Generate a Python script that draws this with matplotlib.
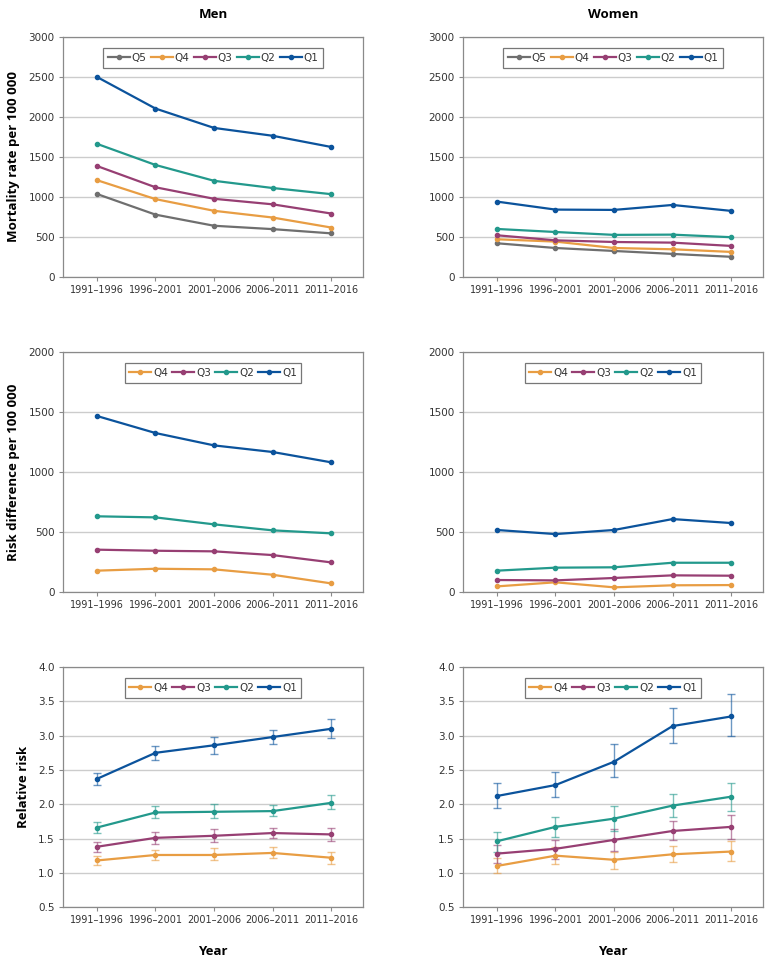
import numpy as np
import matplotlib.pyplot as plt

periods = ["1991\u20131996", "1996\u20132001", "2001\u20132006", "2006\u20132011", "2011\u20132016"]
quintiles = ["Q5", "Q4", "Q3", "Q2", "Q1"]
colors = {"Q5": "#6f6f6f", "Q4": "#e89d43", "Q3": "#973f73", "Q2": "#23998c", "Q1": "#0b539c"}

# mortality rate per 100 000
men_rate = {
    "Q5": [1037, 779, 640, 598, 545],
    "Q4": [1210, 973, 827, 743, 618],
    "Q3": [1387, 1121, 977, 908, 793],
    "Q2": [1664, 1400, 1202, 1112, 1035],
    "Q1": [2500, 2105, 1863, 1765, 1625],
}
women_rate = {
    "Q5": [421, 362, 325, 288, 252],
    "Q4": [471, 442, 362, 346, 313],
    "Q3": [521, 458, 437, 429, 388],
    "Q2": [600, 562, 526, 529, 497],
    "Q1": [942, 842, 838, 900, 826],
}

# risk difference per 100 000
men_rd = {
    "Q4": [178, 194, 189, 144, 72],
    "Q3": [353, 344, 339, 308, 247],
    "Q2": [631, 622, 564, 514, 489],
    "Q1": [1467, 1325, 1222, 1167, 1081],
}
women_rd = {
    "Q4": [47, 81, 39, 56, 58],
    "Q3": [100, 97, 117, 139, 136],
    "Q2": [178, 203, 206, 244, 244],
    "Q1": [517, 483, 517, 608, 575],
}

# relative risk with 95% CI
men_rr = {
    "Q4": [1.18, 1.26, 1.26, 1.29, 1.22],
    "Q3": [1.38, 1.51, 1.54, 1.58, 1.56],
    "Q2": [1.66, 1.88, 1.89, 1.90, 2.02],
    "Q1": [2.37, 2.75, 2.86, 2.98, 3.10],
}
men_rr_lo = {
    "Q4": [1.11, 1.18, 1.18, 1.22, 1.13],
    "Q3": [1.30, 1.42, 1.45, 1.51, 1.47],
    "Q2": [1.58, 1.80, 1.80, 1.83, 1.93],
    "Q1": [2.28, 2.64, 2.74, 2.88, 2.96],
}
men_rr_hi = {
    "Q4": [1.24, 1.34, 1.36, 1.37, 1.31],
    "Q3": [1.45, 1.59, 1.64, 1.66, 1.65],
    "Q2": [1.74, 1.97, 2.00, 1.99, 2.13],
    "Q1": [2.46, 2.85, 2.98, 3.09, 3.24],
}
women_rr = {
    "Q4": [1.10, 1.25, 1.19, 1.27, 1.31],
    "Q3": [1.28, 1.35, 1.48, 1.61, 1.67],
    "Q2": [1.46, 1.67, 1.79, 1.98, 2.11],
    "Q1": [2.12, 2.28, 2.62, 3.14, 3.28],
}
women_rr_lo = {
    "Q4": [1.00, 1.13, 1.06, 1.16, 1.17],
    "Q3": [1.14, 1.20, 1.32, 1.48, 1.50],
    "Q2": [1.31, 1.52, 1.61, 1.81, 1.90],
    "Q1": [1.95, 2.10, 2.40, 2.90, 2.99],
}
women_rr_hi = {
    "Q4": [1.21, 1.37, 1.31, 1.39, 1.46],
    "Q3": [1.40, 1.48, 1.64, 1.75, 1.85],
    "Q2": [1.59, 1.82, 1.97, 2.15, 2.31],
    "Q1": [2.31, 2.47, 2.88, 3.40, 3.61],
}

plt.rcParams['font.family'] = ['DejaVu Sans']
fig = plt.figure(figsize=(7.72, 9.65), dpi=100)

x = np.arange(len(periods))
lefts = [0.0816, 0.5997]
bottoms = [0.713, 0.3865, 0.060]
W, H = 0.389, 0.2487


def style_axes(ax, ylim, yticks, fmt):
    ax.set_xlim(-0.58, 4.55)
    ax.set_ylim(*ylim)
    ax.set_yticks(yticks)
    ax.set_yticklabels([fmt(v) for v in yticks], fontsize=7.5, color="#333333")
    ax.set_xticks(x)
    ax.set_xticklabels(periods, fontsize=7, color="#333333")
    for s in ax.spines.values():
        s.set_color("#8a8a8a")
        s.set_linewidth(0.9)
    ax.tick_params(axis="both", length=3, width=0.8, color="#8a8a8a", pad=3)
    ax.grid(axis="y", color="#cccccc", linewidth=1.0)
    ax.set_axisbelow(True)


def draw_lines(ax, data, order, lo=None, hi=None):
    for q in order:
        y = np.array(data[q])
        if lo is not None:
            err = [y - np.array(lo[q]), np.array(hi[q]) - y]
            ax.errorbar(x, y, yerr=err, fmt="none", ecolor=colors[q], alpha=0.6,
                        elinewidth=1.0, capsize=3, capthick=1.0, zorder=2)
        ax.plot(x, y, color=colors[q], lw=1.6, marker="o", ms=3, label=q, zorder=3)
    leg = ax.legend(loc="upper center", bbox_to_anchor=(0.5, 0.975), ncol=len(order),
                    fontsize=7.5, frameon=True, fancybox=False, handlelength=2.1,
                    handletextpad=0.15, columnspacing=0.45, borderpad=0.45,
                    labelcolor="#333333")
    leg.get_frame().set_edgecolor("#555555")
    leg.get_frame().set_linewidth(0.9)


panels = [
    (men_rate, women_rate, quintiles, (0, 3000), [0, 500, 1000, 1500, 2000, 2500, 3000],
     lambda v: f"{v:d}", "Mortality rate per 100 000", None),
    (men_rd, women_rd, quintiles[1:], (0, 2000), [0, 500, 1000, 1500, 2000],
     lambda v: f"{v:d}", "Risk difference per 100 000", None),
    (men_rr, women_rr, quintiles[1:], (0.5, 4.0), [0.5, 1.0, 1.5, 2.0, 2.5, 3.0, 3.5, 4.0],
     lambda v: f"{v:.1f}", "Relative risk", "rr"),
]

for row, (mdata, wdata, order, ylim, yticks, fmt, ylab, kind) in enumerate(panels):
    for col, data in enumerate([mdata, wdata]):
        ax = fig.add_axes([lefts[col], bottoms[row], W, H])
        if kind == "rr":
            lo = men_rr_lo if col == 0 else women_rr_lo
            hi = men_rr_hi if col == 0 else women_rr_hi
            draw_lines(ax, data, order, lo, hi)
        else:
            draw_lines(ax, data, order)
        style_axes(ax, ylim, yticks, fmt)
        if col == 0:
            ax.set_ylabel(ylab, fontsize=9.5, fontweight="bold", family="Open Sans", labelpad=6)
        if row == 0:
            ax.set_title(["Men", "Women"][col], fontsize=9.5, fontweight="bold",
                         family="Open Sans", pad=14)
        if row == 2:
            ax.set_xlabel("Year", fontsize=9.5, fontweight="bold", family="Open Sans", labelpad=14)

fig.savefig("out.png", dpi=100)
